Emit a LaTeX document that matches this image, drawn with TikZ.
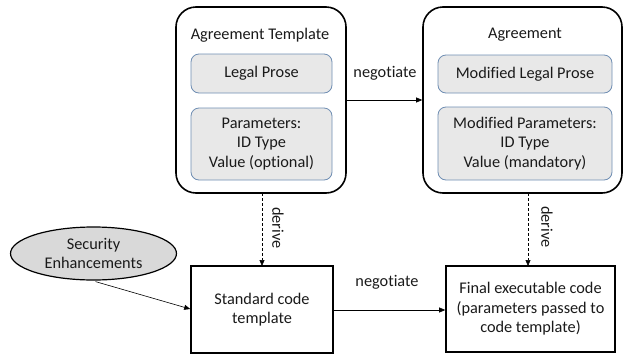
\documentclass[tikz,border=0pt]{standalone}
\usepackage{fontspec}
\setmainfont{Carlito}[Ligatures={NoCommon}]
\usetikzlibrary{arrows.meta,shapes.geometric}
\definecolor{innerfill}{HTML}{E8E8E8}
\definecolor{innerdraw}{HTML}{6F8EB3}
\definecolor{ellfill}{HTML}{D9D9D9}
\definecolor{txt}{HTML}{1A1A1A}
\begin{document}
\begin{tikzpicture}[x=1pt,y=-1pt,
  every node/.style={font=\fontsize{16.3}{19.5}\selectfont,text=txt,align=center,inner sep=0pt},
  bigbox/.style={draw=black,line width=1.6pt,rounded corners=20pt,fill=white},
  innerbox/.style={draw=innerdraw,line width=0.8pt,rounded corners=8pt,fill=innerfill},
  plainbox/.style={draw=black,line width=1.6pt,fill=white},
  conn/.style={draw=black,line width=0.6pt,-{Triangle[length=6pt,width=5pt]}},
  dconn/.style={conn,dashed,dash pattern=on 3pt off 2pt},
  lbl/.style={font=\fontsize{16.3}{19.5}\selectfont}]
\useasboundingbox (0,0) rectangle (625,354);
% left big box
\node[bigbox,minimum width=170pt,minimum height=186pt] (tpl) at (261,100) {};
\node (tpltitle) at (260,35) {Agreement Template};
\node[innerbox,minimum width=141pt,minimum height=39pt] (prose) at (261.5,73.5) {Legal Prose};
\node[innerbox,minimum width=141pt,minimum height=72pt] (params) at (261.5,144) {Parameters:\\ID Type\\Value (optional)};
% right big box
\node[bigbox,minimum width=199pt,minimum height=186pt] (agr) at (522.5,100) {};
\node (agrtitle) at (525,35) {Agreement};
\node[innerbox,minimum width=174pt,minimum height=38pt] (mprose) at (525,74) {Modified Legal Prose};
\node[innerbox,minimum width=174pt,minimum height=73pt] (mparams) at (525,143.5) {Modified Parameters:\\ID Type\\Value (mandatory)};
% bottom boxes
\node[plainbox,minimum width=142pt,minimum height=87pt] (std) at (262,309.5) {Standard code\\template};
\node[plainbox,minimum width=169pt,minimum height=86pt] (final) at (530.5,309) {Final executable code\\(parameters passed to\\code template)};
\node[draw=black,line width=1.2pt,fill=ellfill,ellipse,minimum width=166pt,minimum height=53pt] (sec) at (93.5,253.5) {Security\\Enhancements};
% coordinates for connectors
\coordinate (a1) at (262,193);
\coordinate (a2) at (262,266);
\coordinate (b1) at (528,193);
\coordinate (b2) at (528,266);
\draw[conn] (tpl.east |- 0,100) -- (agr.west |- 0,100);
\node[lbl] (neg1) at (385,73) {negotiate};
\draw[dconn] (a1) -- (a2);
\node[lbl,rotate=-90] (der1) at (278,228) {derive};
\draw[dconn] (b1) -- (b2);
\node[lbl,rotate=-90] (der2) at (547,227) {derive};
\draw[conn] (std.east |- 0,310) -- (final.west |- 0,310);
\node[lbl] (neg2) at (387,282) {negotiate};
\draw[conn] (sec.south) ++(2,1) -- (std.west |- 0,309);
\end{tikzpicture}
\end{document}
